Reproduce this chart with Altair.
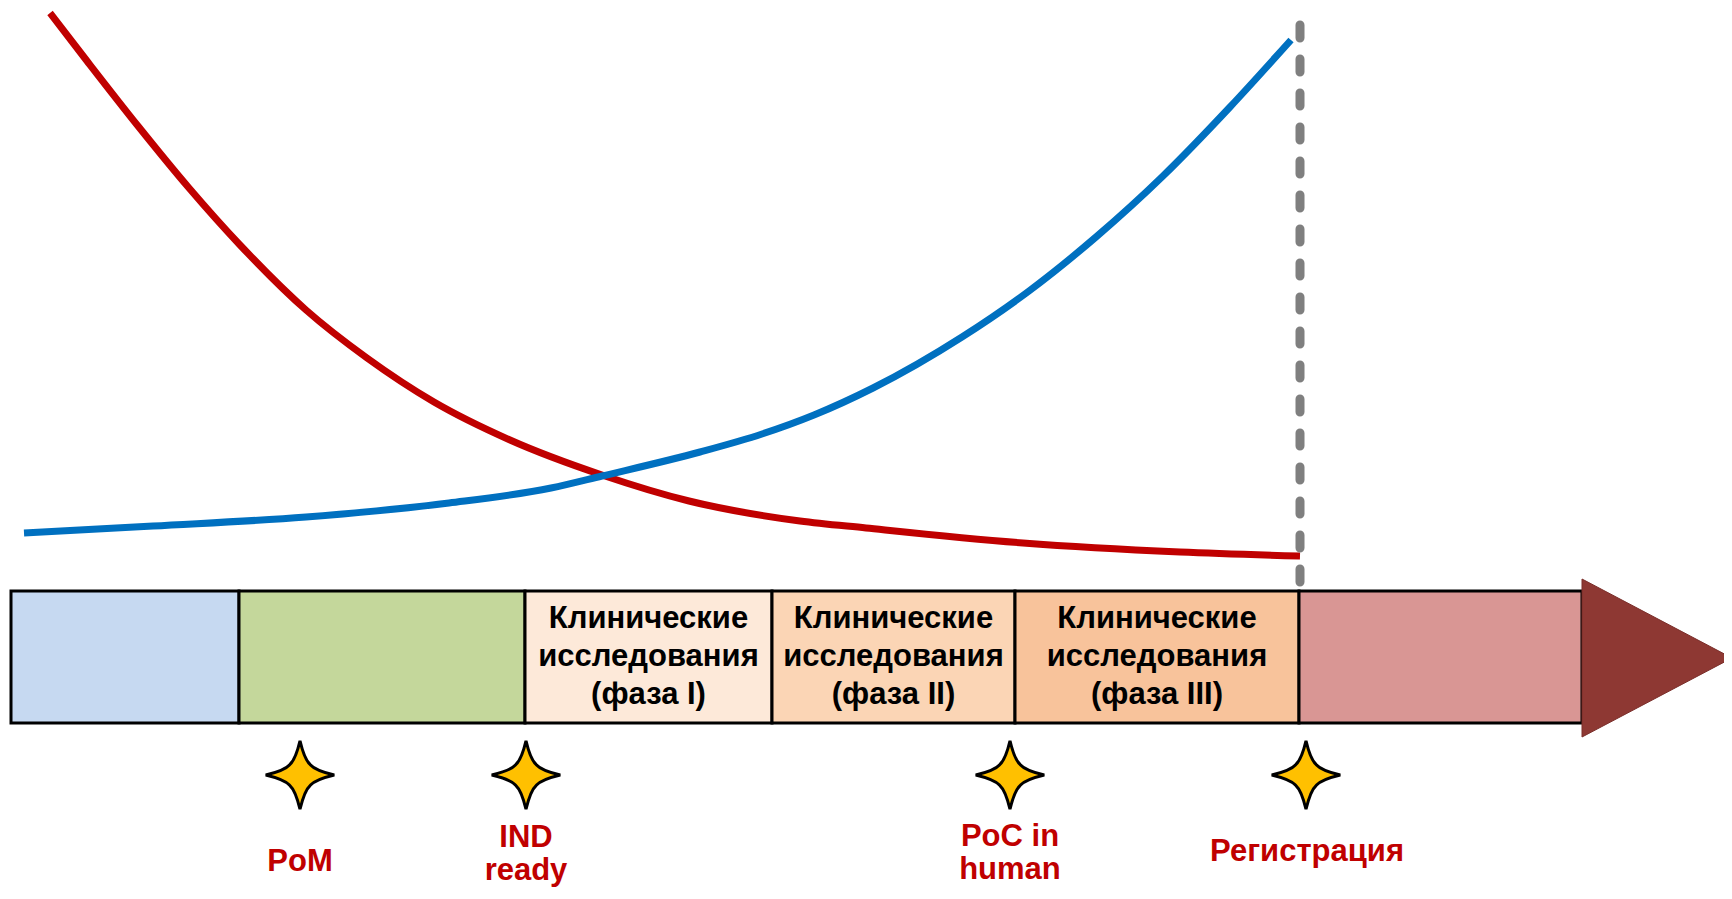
import altair as alt
import pandas as pd

# ---- diagram data (diagram units = page pixels) ----
phase_names = ["Исследование", "Доклиника", "Фаза I", "Фаза II", "Фаза III", "Регистрация"]
phase_start = [11, 239, 525, 772, 1015, 1299]
phase_end = [239, 525, 772, 1015, 1299, 1582]
phase_colors = ["#C6D9F1", "#C4D79B", "#FDE9D9", "#FBD5B5", "#F8C39B", "#D99694"]
bar_top, bar_bottom = 591, 723

# text inside the clinical phase boxes (one row per line)
box_line_text = ["Клинические", "исследования", "(фаза I)",
                 "Клинические", "исследования", "(фаза II)",
                 "Клинические", "исследования", "(фаза III)"]
box_line_phase = [2, 2, 2, 3, 3, 3, 4, 4, 4]
box_line_y = [619, 657, 695] * 3

arrow_x = [1582, 1732]
arrow_top = [579, 658]
arrow_bottom = [737, 658]

red_x = [50, 87, 138, 189, 240, 306, 367, 434, 510, 602, 689, 800, 866, 1023, 1180, 1300]
red_y = [13, 61, 126, 188, 245, 310, 358, 402, 440, 475, 501, 521, 528, 543, 552, 556]
blue_x = [24, 153, 306, 449, 551, 602, 700, 762, 814, 873, 962, 1029, 1096, 1163, 1230, 1291]
blue_y = [533, 526, 517, 503, 488, 476, 452, 434, 415, 388, 337, 291, 237, 176, 107, 40]

milestone_x = [300, 526, 1010, 1306]
star_y = 775
label_text = ["PoM", "IND", "ready", "PoC in", "human", "Регистрация"]
label_x = [300, 526, 526, 1010, 1010, 1307]
label_y = [862, 838, 871, 837, 870, 852]

launch_x = 1300
launch_y = [25, 592]

X0, X1 = 8, 1724
Y0, Y1 = 8, 888
xs = alt.Scale(domain=[X0, X1], nice=False, zero=False)
ys = alt.Scale(domain=[Y0, Y1], nice=False, zero=False, reverse=True)

def X(f, **k):
    return alt.X(f, type="quantitative", scale=xs, axis=None, **k)

def Y(f, **k):
    return alt.Y(f, type="quantitative", scale=ys, axis=None, **k)

phases = pd.DataFrame({
    "name": phase_names, "x": phase_start, "x2": phase_end,
    "y": [bar_top] * 6, "y2": [bar_bottom] * 6, "color": phase_colors,
})

boxes = alt.Chart(phases).mark_rect(stroke="black", strokeWidth=3).encode(
    x=X("x"), x2="x2", y=Y("y"), y2="y2",
    fill=alt.Fill("color:N", scale=None),
)

box_lines = pd.DataFrame({
    "text": box_line_text,
    "cx": [(phase_start[i] + phase_end[i]) / 2 for i in box_line_phase],
    "cy": box_line_y,
})
box_text = alt.Chart(box_lines).mark_text(
    font="Liberation Sans", fontWeight="bold", fontSize=31,
    align="center", baseline="middle", color="black",
).encode(x=X("cx"), y=Y("cy"), text="text:N")

arrow = alt.Chart(pd.DataFrame({"x": arrow_x, "y": arrow_top, "y2": arrow_bottom})).mark_area(
    color="#8E3833", stroke="#7A2E2A", strokeWidth=1
).encode(x=X("x"), y=Y("y"), y2="y2")

curves = pd.concat([
    pd.DataFrame({"x": red_x, "y": red_y, "s": "red"}),
    pd.DataFrame({"x": blue_x, "y": blue_y, "s": "blue"}),
])
lines = alt.Chart(curves).mark_line(strokeWidth=7, interpolate="monotone").encode(
    x=X("x"), y=Y("y"), detail="s:N",
    color=alt.Color("s:N", scale=alt.Scale(domain=["red", "blue"], range=["#C00000", "#0070C0"]), legend=None),
)

launch = alt.Chart(pd.DataFrame({"x": [launch_x], "y": [launch_y[0]], "y2": [launch_y[1]]})).mark_rule(
    color="#7F7F7F", strokeWidth=9, strokeDash=[13, 21], strokeCap="round"
).encode(x=X("x"), y=Y("y"), y2="y2")

ms = pd.DataFrame({"x": milestone_x, "y": [star_y] * 4})
star_path = ("M0,-1 Q0.13,-0.45 0.3,-0.3 Q0.45,-0.13 1,0 Q0.45,0.13 0.3,0.3 "
             "Q0.13,0.45 0,1 Q-0.13,0.45 -0.3,0.3 Q-0.45,0.13 -1,0 "
             "Q-0.45,-0.13 -0.3,-0.3 Q-0.13,-0.45 0,-1 Z")
stars = alt.Chart(ms).mark_point(
    shape=star_path, size=4700, filled=True, fill="#FFC000", stroke="black", strokeWidth=3, opacity=1
).encode(x=X("x"), y=Y("y"))

labels = alt.Chart(pd.DataFrame({"text": label_text, "x": label_x, "y": label_y})).mark_text(
    font="Liberation Sans Narrow, Arial Narrow, Liberation Sans", fontWeight="bold", fontSize=31,
    align="center", baseline="middle", color="#C00000",
).encode(x=X("x"), y=Y("y"), text="text:N")

chart = alt.layer(boxes, box_text, arrow, lines, launch, stars, labels).properties(
    width=X1 - X0, height=Y1 - Y0, padding=0, autosize=alt.AutoSizeParams(type="none"),
).configure_view(stroke=None)

chart.save("out.html", embed_options={"renderer": "svg", "actions": False})
